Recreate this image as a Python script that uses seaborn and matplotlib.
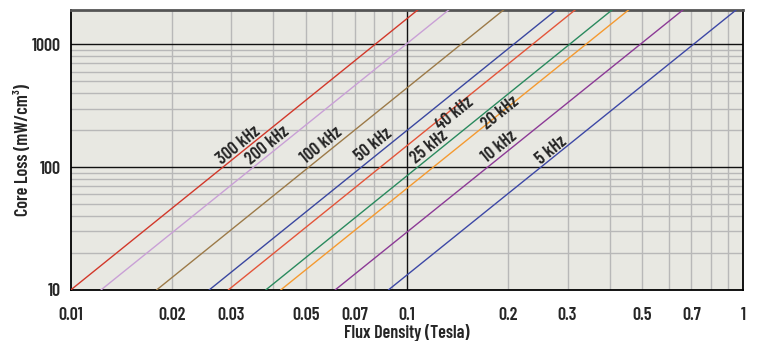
import numpy as np
import pandas as pd
import matplotlib
matplotlib.use("Agg")
import matplotlib.pyplot as plt
import matplotlib.ticker as mticker
from matplotlib import font_manager
import seaborn as sns

# Core loss curves: flux density where each line
# sits at 10 mW/cm3 and where it leaves the top (2000 mW/cm3)
freqs = ['300 kHz', '200 kHz', '100 kHz', '50 kHz', '40 kHz',
         '25 kHz', '20 kHz', '10 kHz', '5 kHz']
b_at_10 = [0.0100, 0.0123, 0.0180, 0.0258, 0.0294, 0.0380, 0.0421, 0.0611, 0.0880]
b_at_2000 = [0.110, 0.136, 0.198, 0.284, 0.323, 0.416, 0.466, 0.676, 0.973]
loss_ends = [10, 2000]
colores = ['#d2382a', '#c9a0d6', '#9c7a48', '#3a47a0', '#e4553a',
           '#2a8a5e', '#f59a30', '#8c3a96', '#3d48a6']

# posicion de las etiquetas (centro del texto)
lab_x = [0.0315, 0.0386, 0.0556, 0.0798, 0.139, 0.1165, 0.190, 0.189, 0.2685]
lab_y = [151, 151, 151, 151, 270, 145, 275, 145, 137]

x_labeled = [0.02, 0.03, 0.05, 0.07, 0.2, 0.3, 0.5, 0.7]
y_ticks = [10, 100, 1000]
x_major = [0.01, 0.1, 1]

rows = []
for f, b0, b1 in zip(freqs, b_at_10, b_at_2000):
    rows.append({'freq': f, 'B': b0, 'P': loss_ends[0]})
    rows.append({'freq': f, 'B': b1, 'P': loss_ends[1]})
df = pd.DataFrame(rows)

sns.set_style("white")

# fuente estrecha, parecida a la del original
nombres = {f.name for f in font_manager.fontManager.ttflist}
familia = 'DejaVu Sans'
for cand in ['Barlow Condensed', 'Roboto Condensed', 'Oswald',
             'Archivo Narrow', 'Liberation Sans Narrow']:
    if cand in nombres:
        familia = cand
        break
plt.rcParams['font.family'] = [familia, 'DejaVu Sans']
peso = 'semibold'
tam = 13 if familia != 'DejaVu Sans' else 10

fig = plt.figure(figsize=(7.57, 3.41), dpi=100)
ax = fig.add_axes([0.0934, 0.1496, 0.8886, 0.8225])
ax.set_facecolor('#e8e8e2')

sns.lineplot(data=df, x='B', y='P', hue='freq', palette=colores,
             hue_order=freqs, legend=False, ax=ax, linewidth=1.0, zorder=3)

ax.set_xscale('log')
ax.set_yscale('log')
ax.set_xlim(0.01, 1)
ax.set_ylim(10, 1920)

ax.xaxis.set_major_locator(mticker.FixedLocator(x_major))
ax.xaxis.set_major_formatter(mticker.FuncFormatter(lambda v, p: f'{v:g}'))
ax.xaxis.set_minor_locator(mticker.LogLocator(base=10, subs=np.arange(2, 10)))
ax.xaxis.set_minor_formatter(mticker.FuncFormatter(
    lambda v, p: f'{v:g}' if any(abs(v - t) < 1e-9 for t in x_labeled) else ''))
ax.yaxis.set_major_locator(mticker.FixedLocator(y_ticks))
ax.yaxis.set_major_formatter(mticker.FuncFormatter(lambda v, p: f'{v:g}'))
ax.yaxis.set_minor_locator(mticker.LogLocator(base=10, subs=np.arange(2, 10)))
ax.yaxis.set_minor_formatter(mticker.NullFormatter())

# rejilla: gris fina abajo, negra de las decadas encima
ax.grid(which='minor', color='#b8b8b8', linewidth=1.0)
ax.grid(which='major', visible=False)
ax.set_axisbelow(True)
for v in x_major[1:-1]:
    ax.axvline(v, color='#111111', linewidth=1.0, zorder=2)
for v in y_ticks[1:]:
    ax.axhline(v, color='#111111', linewidth=1.0, zorder=2)

ax.tick_params(which='major', length=5, width=1, color='black',
               labelsize=tam, pad=2)
ax.tick_params(axis='x', which='major', pad=7)
ax.tick_params(axis='x', which='minor', length=3, width=1, color='#b8b8b8',
               labelsize=tam, pad=9)
ax.tick_params(axis='y', which='minor', length=0)
for lab in ax.get_xticklabels(which='both') + ax.get_yticklabels():
    lab.set_fontweight(peso)

for s in ['left', 'bottom', 'right']:
    ax.spines[s].set_color('black')
    ax.spines[s].set_linewidth(1.3)
ax.spines['top'].set_color('#555555')
ax.spines['top'].set_linewidth(2)

for txt, x, y in zip(freqs, lab_x, lab_y):
    ax.text(x, y, txt, rotation=39, ha='center', va='center',
            fontsize=tam, fontweight=peso, zorder=5)

ax.set_xlabel('Flux Density (Tesla)', fontsize=tam, fontweight=peso, labelpad=0)
ax.set_ylabel('Core Loss (mW/cm³)', fontsize=tam, fontweight=peso)
ax.yaxis.set_label_coords(-0.058, 0.5)

fig.savefig('out.png', dpi=100)
